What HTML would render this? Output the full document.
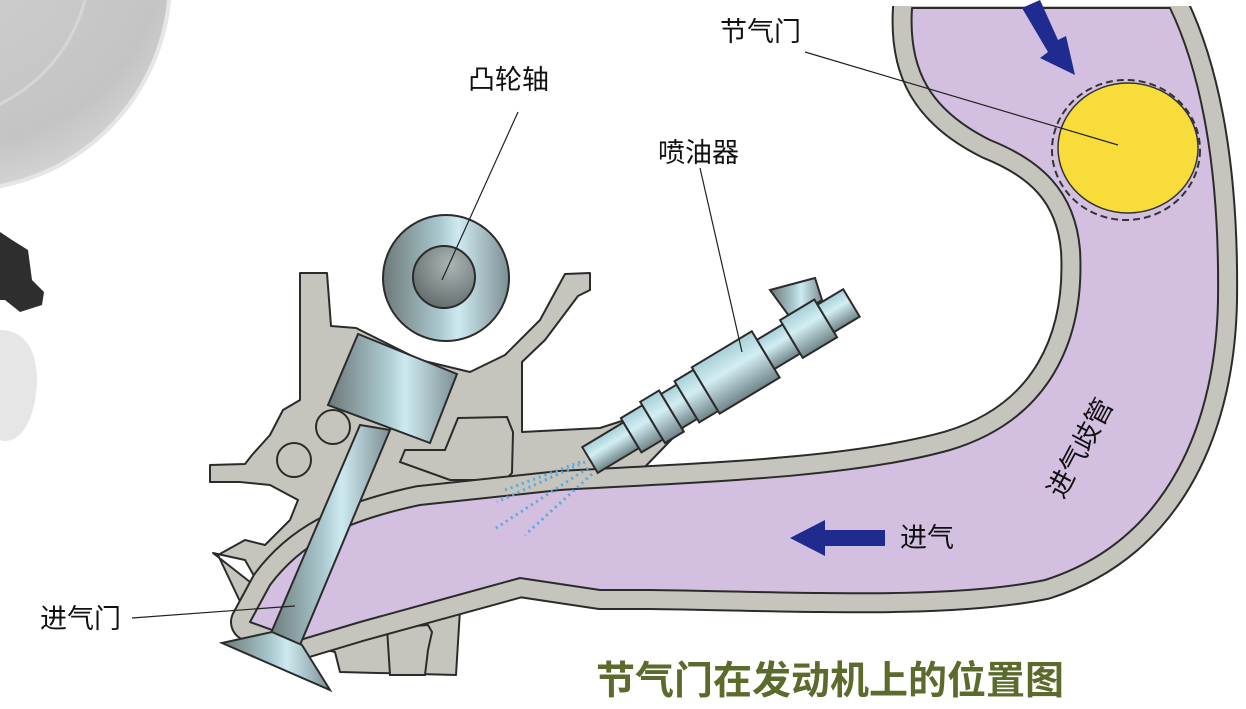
<!DOCTYPE html>
<html><head><meta charset="utf-8"><style>
html,body{margin:0;padding:0;background:#fff;}
svg{display:block;}
text{font-family:"Liberation Sans","Noto Sans CJK SC",sans-serif;}
</style></head><body>
<svg width="1246" height="709" viewBox="0 0 1246 709" xmlns="http://www.w3.org/2000/svg">
<defs>
<radialGradient id="disc" cx="0.5" cy="0.4" r="0.7">
<stop offset="0" stop-color="#d0d0d0"/><stop offset="0.7" stop-color="#c4c4c4"/><stop offset="1" stop-color="#e2e2e2"/></radialGradient>
<linearGradient id="steel" x1="0" y1="0" x2="1" y2="0">
<stop offset="0" stop-color="#6d7878"/><stop offset="0.45" stop-color="#a9c9cf"/><stop offset="0.6" stop-color="#cdeaf0"/><stop offset="1" stop-color="#7d8f93"/></linearGradient>
<linearGradient id="steelv" x1="0" y1="0" x2="0" y2="1">
<stop offset="0" stop-color="#a7cfd6"/><stop offset="0.4" stop-color="#d2eef3"/><stop offset="1" stop-color="#6f8488"/></linearGradient>
<radialGradient id="camin" cx="0.6" cy="0.3" r="0.8"><stop offset="0" stop-color="#a9b6b6"/><stop offset="1" stop-color="#5d6666"/></radialGradient>
<path id="mfp" d="M1170,8 C1195,60 1220,150 1218,300 C1216,420 1170,540 1045,580 C950,600 800,592 650,590 L600,590 L520,578 L440,600 L360,622 L300,640 L250,622 L270,585 C300,545 340,522 420,505 L560,490 C700,482 850,478 950,450 C1050,420 1085,340 1080,250 C1075,190 1040,160 990,140 C930,110 908,70 912,8 Z"/>
</defs>

<circle cx="-40" cy="-20" r="212" fill="url(#disc)"/>
<circle cx="-40" cy="-20" r="210" fill="none" stroke="#e6e6e6" stroke-width="4"/>
<circle cx="-70" cy="-40" r="160" fill="none" stroke="#d6d6d6" stroke-width="3"/>
<path d="M0,232 L12,240 L28,250 L32,280 L44,292 L42,305 L20,312 L5,300 L0,300 Z" fill="#2e2e2e"/>
<path d="M0,330 C30,330 42,360 35,400 C30,430 15,445 0,440 Z" fill="#e6e6e6"/>

<path d="M300,273 L327,273 L331,326 L356,328 L420,360 L470,372 L505,355 L540,320 L565,274 L590,273 L590,290 L578,296 L545,340 L522,362 L522,432 L600,428 L650,412 L690,395 L700,410 L640,472 L560,486 L460,495 L410,502 L370,522 L335,545 L300,575 L280,600 L250,615 L246,628 L335,652 L340,672 L456,675 L460,610 L300,620 L262,590 L245,560 L213,553 L250,582 L262,610 L245,612 L218,555 L245,540 L265,545 L290,520 L298,500 L270,485 L240,482 L210,482 L210,465 L245,464 L252,455 L270,435 L283,410 L300,400 Z" fill="#c6c5bd" stroke="#2b2b2b" stroke-width="2" stroke-linejoin="round"/>
<path d="M458,418 L507,417 L513,432 L512,473 L505,480 L450,480 L400,462 L405,450 L445,450 Z" fill="#c6c5bd" stroke="#2b2b2b" stroke-width="2"/>
<path d="M387,628 L428,625 L432,632 L428,650 L425,675 L390,675 Z" fill="#c6c5bd" stroke="#2b2b2b" stroke-width="2"/>
<circle cx="333" cy="427" r="17" fill="none" stroke="#2b2b2b" stroke-width="2"/>
<circle cx="294" cy="460" r="17" fill="none" stroke="#2b2b2b" stroke-width="2"/>

<g stroke-linejoin="round">
<use href="#mfp" fill="none" stroke="#2b2b2b" stroke-width="40"/>
<use href="#mfp" fill="none" stroke="#c6c5bd" stroke-width="36"/>
<use href="#mfp" fill="#d3bfe0" stroke="#2b2b2b" stroke-width="2"/>
</g>
<rect x="870" y="0" width="360" height="6" fill="#fff"/>

<ellipse cx="1126" cy="150" rx="74" ry="70" fill="none" stroke="#333" stroke-width="2" stroke-dasharray="7,4"/>
<ellipse cx="1128" cy="148" rx="70" ry="65" fill="#f8dc3a" stroke="#333" stroke-width="1.5"/>

<path d="M885,530 L825,530 L825,520 L790,538 L825,556 L825,546 L885,546 Z" fill="#1f2b8f"/>
<path d="M1022,8 L1040,0 L1058,40 L1066,36 L1075,75 L1040,58 L1048,52 Z" fill="#1f2b8f"/>

<g stroke="#5aa8dc" stroke-width="3" stroke-dasharray="2,4" fill="none">
<line x1="585" y1="462" x2="497" y2="502"/>
<line x1="588" y1="468" x2="493" y2="530"/>
<line x1="592" y1="474" x2="525" y2="535"/>
<line x1="580" y1="462" x2="505" y2="490"/>
</g>

<path d="M360,425 L390,430 L300,645 L268,640 Z" fill="url(#steel)" stroke="#2b2b2b" stroke-width="2"/>
<path d="M222,643 L272,632 L302,645 L330,690 Z" fill="url(#steel)" stroke="#2b2b2b" stroke-width="2"/>
<path d="M358,334 L457,374 L430,443 L328,405 Z" fill="url(#steel)" stroke="#2b2b2b" stroke-width="2"/>
<circle cx="446" cy="278" r="63" fill="url(#steel)" stroke="#2b2b2b" stroke-width="2"/>
<circle cx="444" cy="277" r="31" fill="url(#camin)" stroke="#2b2b2b" stroke-width="2"/>

<path d="M770,290 L815,278 L822,300 L792,320 Z" fill="url(#steel)" stroke="#2b2b2b" stroke-width="2"/>
<g transform="translate(590,460) rotate(-31)" stroke="#2b2b2b" stroke-width="2" fill="url(#steelv)">
<rect x="0" y="-15" width="48" height="30"/>
<rect x="48" y="-20" width="25" height="40"/>
<rect x="73" y="-24" width="22" height="48"/>
<rect x="95" y="-20" width="18" height="40"/>
<rect x="113" y="-24" width="22" height="48"/>
<rect x="135" y="-27" width="70" height="54"/>
<rect x="205" y="-17" width="30" height="34"/>
<rect x="235" y="-22" width="40" height="44"/>
<rect x="275" y="-16" width="30" height="32"/>
</g>

<g stroke="#222" stroke-width="1.2">
<line x1="805" y1="52" x2="1118" y2="145"/>
<line x1="518" y1="112" x2="442" y2="280"/>
<line x1="700" y1="168" x2="742" y2="352"/>
<line x1="132" y1="618" x2="295" y2="606"/>
</g>

<g font-size="27" fill="#111">
<text x="720" y="41">节气门</text>
<text x="468" y="89">凸轮轴</text>
<text x="658" y="162">喷油器</text>
<text x="40" y="628">进气门</text>
<text x="900" y="547">进气</text>
<text transform="translate(1063,500) rotate(-62)">进气歧管</text>
</g>
<text x="596" y="694" font-size="39" font-weight="bold" fill="#5b6b2c">节气门在发动机上的位置图</text>
</svg>
</body></html>
